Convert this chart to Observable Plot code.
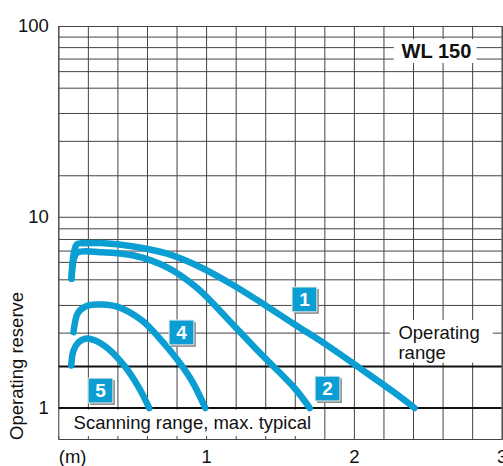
<!DOCTYPE html>
<html><head><meta charset="utf-8">
<script src="https://cdn.jsdelivr.net/npm/d3@7"></script>
<script src="https://cdn.jsdelivr.net/npm/@observablehq/plot@0.6"></script>
<style>
body{margin:0;background:#fff;}
#chart svg{display:block;}
</style></head><body><div id="chart"></div>
<script>
// Curve data (x in m, y = operating reserve)
const curve1X = [0.086,0.101,0.124,0.181,0.282,0.507,0.733,0.959,1.184,1.365,1.590,1.816,2.041,2.267,2.407];
const curve1Y = [4.76,6.44,7.24,7.31,7.32,7.03,6.44,5.47,4.39,3.59,2.76,2.13,1.61,1.21,1.0];
const curve2X = [0.086,0.103,0.127,0.282,0.507,0.733,0.932,1.139,1.365,1.590,1.698];
const curve2Y = [4.76,6.08,6.54,6.56,6.30,5.46,4.28,2.95,1.93,1.285,1.0];
const curve4X = [0.0995,0.133,0.201,0.291,0.404,0.562,0.675,0.788,0.900,0.991];
const curve4Y = [2.50,3.18,3.45,3.49,3.38,2.88,2.35,1.85,1.39,1.0];
const curve5X = [0.084,0.0995,0.133,0.179,0.246,0.336,0.450,0.539,0.612];
const curve5Y = [1.67,2.00,2.21,2.31,2.26,2.04,1.64,1.29,1.0];

const badgeLabels = ["1","2","4","5"];
const badgeX = [1.662,1.818,0.830,0.282];
const badgeY = [3.71,1.265,2.49,1.235];

const xGrid = [0,0.2,0.4,0.6,0.8,1,1.2,1.4,1.6,1.8,2,2.2,2.4,2.6,2.8,3];
const yGrid = [1.65,2.47,3.45,4.7,5.8,6.65,7.65,8.7,10,16.5,25,35,47.5,58,67.5,77.5,88,100];
const yGridBold = [1,1.65];
const xTicks = [1,2,3];
const xTickLabels = ["1","2","3"];
const yTicks = [1,10,100];

const curves = [
  {id:"1", X:curve1X, Y:curve1Y},
  {id:"2", X:curve2X, Y:curve2Y},
  {id:"4", X:curve4X, Y:curve4Y},
  {id:"5", X:curve5X, Y:curve5Y}
].flatMap(c => c.X.map((x,i)=>({id:c.id, x, y:c.Y[i]})));
const badges = badgeLabels.map((l,i)=>({label:l, x:badgeX[i], y:badgeY[i]}));

const blue = "#0a9ed3";
const FS = 18.5;
const font = "'Liberation Sans', Arial, sans-serif";

const chart = Plot.plot({
  width: 503, height: 466,
  marginLeft: 58.3, marginRight: 1.3, marginTop: 26, marginBottom: 27,
  style: {fontFamily: font, fontSize: FS + "px", background: "#fff", color: "#111"},
  x: {domain: [0,3], label: null},
  y: {type: "log", domain: [0.684,100], label: null},
  marks: [
    Plot.ruleX(xGrid, {stroke:"#444", strokeWidth:1}),
    Plot.ruleY(yGrid, {stroke:"#444", strokeWidth:1}),
    Plot.ruleY(yGridBold, {stroke:"#111", strokeWidth:2}),
    // white label boxes
    Plot.rect([0], {x1:0, x2:1.79, y1:0.709, y2:0.975, fill:"#fff"}),
    Plot.rect([0], {x1:2.27, x2:2.83, y1:64, y2:85.5, fill:"#fff"}),
    Plot.rect([0], {x1:2.244, x2:2.94, y1:1.72, y2:2.88, fill:"#fff"}),
    Plot.text(["Scanning range, max. typical"], {x:0.1, y:0.829, text:d=>d, textAnchor:"start", fontSize:FS, fill:"#111"}),
    Plot.text(["WL 150"], {x:2.555, y:74, text:d=>d, fontSize:20, fontWeight:"bold", fill:"#111"}),
    Plot.text(["Operating\nrange"], {x:2.298, y:2.21, text:d=>d, textAnchor:"start", lineHeight:1.08, fontSize:FS, fill:"#111"}),
    Plot.text(["Operating reserve"], {x:-0.279, y:0.68, text:d=>d, rotate:-90, textAnchor:"start", fontSize:FS, fill:"#111"}),
    Plot.line(curves, {x:"x", y:"y", z:"id", stroke:blue, strokeWidth:6.5, curve:"catmull-rom", strokeLinecap:"round", strokeLinejoin:"round"}),
    Plot.dot(badges, {x:"x", y:"y", symbol:"square", r:14, fill:"#8c8c8c", dx:2, dy:2}),
    Plot.dot(badges, {x:"x", y:"y", symbol:"square", r:14, fill:blue, stroke:"#e8e8e8", strokeWidth:1}),
    Plot.text(badges, {x:"x", y:"y", text:"label", fill:"#fff", fontWeight:"bold", fontSize:19}),
    Plot.frame({stroke:"#444"}),
    Plot.axisY(yTicks, {tickSize:0, tickPadding:10, fontSize:FS, label:null}),
    Plot.axisX(xTicks, {tickSize:0, tickPadding:10, fontSize:FS, label:null, tickFormat:(d,i)=>xTickLabels[i]}),
    Plot.axisX([0], {tickSize:0, tickPadding:10, fontSize:FS, label:null, textAnchor:"start", tickFormat:()=>"(m)"})
  ]
});
document.getElementById("chart").appendChild(chart);
</script></body></html>
